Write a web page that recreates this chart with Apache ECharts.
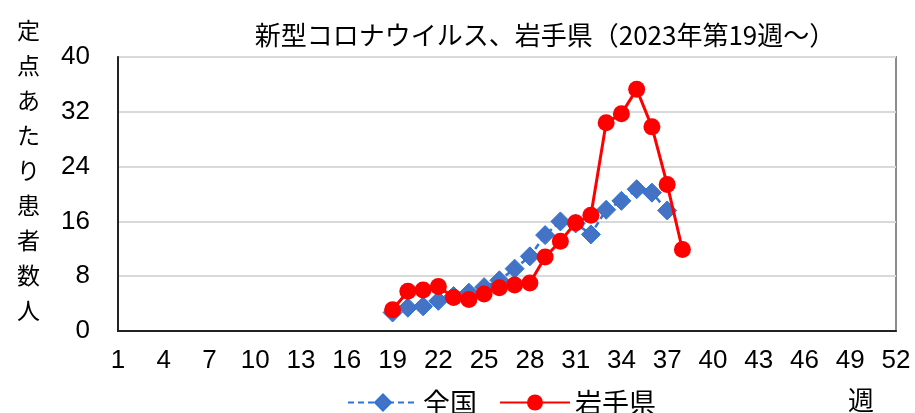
<!DOCTYPE html>
<html><head><meta charset="utf-8">
<script src="https://cdn.jsdelivr.net/npm/echarts@6/dist/echarts.min.js"></script>
<style>html,body{margin:0;padding:0;background:#fff}#c{width:915px;height:413px}</style>
</head><body><div id="c"></div>
<script>
var weeks = [];
for (var w = 1; w <= 52; w++) weeks.push(String(w));
var nationalWeeks = [19,20,21,22,23,24,25,26,27,28,29,30,31,32,33,34,35,36,37];
var nationalValues = [2.7,3.4,3.6,4.4,5.1,5.6,6.4,7.4,9.1,10.9,14.0,16.0,15.7,14.1,17.7,19.0,20.7,20.2,17.6];
var iwateWeeks = [19,20,21,22,23,24,25,26,27,28,29,30,31,32,33,34,35,36,37,38];
var iwateValues = [3.1,5.8,6.0,6.5,4.9,4.6,5.4,6.3,6.7,7.0,10.8,13.1,15.8,16.9,30.4,31.7,35.3,29.8,21.4,11.9];
var yTicks = [0,8,16,24,32,40];

function toSeries(ws, vs){
  var arr = weeks.map(function(){return null;});
  ws.forEach(function(wk,i){ arr[wk-1] = vs[i]; });
  return arr;
}
var numFont = '"Liberation Sans",Arial,sans-serif';
var jpFont = '"Noto Sans CJK JP",sans-serif';

var chart = echarts.init(document.getElementById('c'), null, {renderer:'canvas'});
chart.setOption({
  animation:false,
  title:{text:'新型コロナウイルス、岩手県（2023年第19週～）', left:540, textAlign:'center', top:17,
    textStyle:{fontFamily:jpFont, fontSize:26, fontWeight:'normal', color:'#000'}},
  grid:{left:118, right:19, top:57, bottom:82, show:true, borderColor:'#8c8c8c', borderWidth:2},
  legend:{left:342, top:384, itemWidth:70, itemHeight:20, itemGap:22,
    textStyle:{fontFamily:jpFont, fontSize:27, color:'#000'},
    data:['全国','岩手県']},
  xAxis:{type:'category', data:weeks, boundaryGap:false,
    axisLine:{lineStyle:{color:'#222', width:2}}, axisTick:{show:false},
    axisLabel:{interval:2, fontFamily:numFont, fontSize:26, color:'#000', margin:17},
    splitLine:{show:false}},
  yAxis:{type:'value', min:0, max:40, interval:8,
    axisLine:{show:true, lineStyle:{color:'#222', width:2}}, axisTick:{show:false},
    axisLabel:{fontFamily:numFont, fontSize:26, color:'#000', margin:28},
    splitLine:{lineStyle:{color:'#d9d9d9', width:2}}},
  graphic:[
    {type:'text', left:17, top:13, style:{text:'定\n点\nあ\nた\nり\n患\n者\n数\n人', font:'23px "Noto Sans CJK JP"', lineHeight:35, fill:'#000'}},
    {type:'text', left:848, top:387, style:{text:'週', font:'26px "Noto Sans CJK JP"', fill:'#000'}}
  ],
  series:[
    {name:'全国', type:'line', data:toSeries(nationalWeeks, nationalValues), connectNulls:false,
      symbol:'diamond', symbolSize:19, showAllSymbol:true,
      lineStyle:{color:'#2e75d6', width:2.5, type:[6,4]},
      itemStyle:{color:'#4472c4', borderColor:'#2e75d6', borderWidth:1}, z:2},
    {name:'岩手県', type:'line', data:toSeries(iwateWeeks, iwateValues),
      symbol:'circle', symbolSize:17, showAllSymbol:true,
      lineStyle:{color:'#ff0000', width:3},
      itemStyle:{color:'#ff0000'}, z:3}
  ]
});
</script></body></html>
